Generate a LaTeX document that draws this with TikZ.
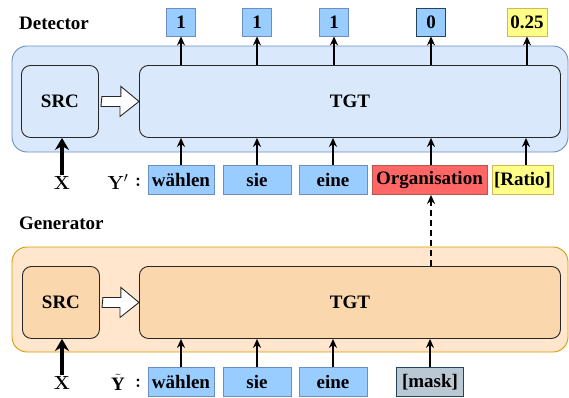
\documentclass[tikz,border=0pt]{standalone}
\usepackage{fontspec}
\setmainfont{Liberation Serif}
\newfontfamily\lmfont{Latin Modern Roman}
\usetikzlibrary{arrows.meta}
\definecolor{detfill}{HTML}{DAE8FC}
\definecolor{detdraw}{HTML}{6C8EBF}
\definecolor{genfill}{HTML}{FFE6CC}
\definecolor{gendraw}{HTML}{D79B00}
\definecolor{geninner}{HTML}{FAD7AC}
\definecolor{tokfill}{HTML}{99CCFF}
\definecolor{tokdraw}{HTML}{6C8EBF}
\definecolor{redfill}{HTML}{FF6666}
\definecolor{reddraw}{HTML}{B85450}
\definecolor{yelfill}{HTML}{FFFF88}
\definecolor{yeldraw}{HTML}{D6B656}
\definecolor{maskfill}{HTML}{BAC8D3}
\definecolor{maskdraw}{HTML}{23445D}
\tikzset{
  outer/.style={rounded corners=15pt, line width=0.9pt},
  inner/.style={draw=black!85, rounded corners=9pt, line width=0.9pt},
  tok/.style={draw=tokdraw, fill=tokfill, line width=0.8pt, minimum height=29pt, inner sep=0pt, font=\fontsize{19}{19}\bfseries},
  outbox/.style={tok, minimum height=28pt, minimum width=29pt},
  lbl/.style={font=\fontsize{19}{19}\bfseries},
  arr/.style={-{Stealth[length=9pt,width=8pt]}, line width=1.4pt},
  thick arr/.style={-{Stealth[length=12pt,width=14pt]}, line width=3.2pt},
  hollowarr/.style={draw=black!85, fill=white, line width=0.9pt, line join=miter},
  mathlbl/.style={font=\lmfont\fontsize{19}{19}\bfseries}
}
\begin{document}
\begin{tikzpicture}[x=1pt,y=-1pt]
\useasboundingbox (0,0) rectangle (569,397);
% ---------- Detector ----------
\node[lbl, anchor=west, inner sep=0pt] (dettitle) at (19,23) {Detector};
\draw[outer, fill=detfill, draw=detdraw] (12,46) rectangle (568,152);
\node[inner, fill=detfill, minimum width=77pt, minimum height=72pt, anchor=north west, lbl] (dsrc) at (21,65) {SRC};
\node[inner, fill=detfill, minimum width=421pt, minimum height=72pt, anchor=north west, lbl] (dtgt) at (139,65) {TGT};
\path (dsrc.east) ++(3,0) coordinate (dha);
\draw[hollowarr] (dha) ++(0,-5) -- ++(19,0) -- ++(0,-10) -- (dtgt.west) -- ++(-19,15) -- ++(0,-10) -- ++(-19,0) -- cycle;
% outputs
\node[outbox] (o1) at (181,22) {1};
\node[outbox] (o2) at (257,22) {1};
\node[outbox] (o3) at (334,22) {1};
\node[outbox, draw=maskdraw] (o4) at (431,22) {0};
\node[outbox, fill=yelfill, draw=yeldraw, minimum width=40pt] (o5) at (527,22) {0.25};
\foreach \i in {1,...,5} \draw[arr] (dtgt.north -| o\i.south) -- (o\i.south);
% inputs
\node[tok, minimum width=66pt] (d1) at (181,180) {wählen};
\node[tok, minimum width=68pt] (d2) at (257,180) {sie};
\node[tok, minimum width=68pt] (d3) at (333,180) {eine};
\node[tok, fill=redfill, draw=reddraw, minimum width=115pt] (d4) at (429.5,180) {Organisation};
\node[tok, fill=yelfill, draw=yeldraw, minimum width=61pt] (d5) at (522.5,180) {[Ratio]};
\coordinate (d4a) at (431,165);
\coordinate (d5a) at (526,165);
\draw[arr] (d1.north) -- (d1.north |- dtgt.south);
\draw[arr] (d2.north) -- (d2.north |- dtgt.south);
\draw[arr] (d3.north) -- (d3.north |- dtgt.south);
\draw[arr] (d4a) -- (d4a |- dtgt.south);
\draw[arr] (d5a) -- (d5a |- dtgt.south);
\node[mathlbl, inner sep=1pt] (dx) at (62,183) {X};
\draw[thick arr] (dx.north) -- (dx.north |- dsrc.south);
\node[mathlbl, inner sep=0pt] (dy) at (118,182) {Y$'$};
\node[mathlbl, inner sep=0pt] (dc) at (138,182) {:};
% ---------- Generator ----------
\node[lbl, anchor=west, inner sep=0pt] (gentitle) at (19,223) {Generator};
\draw[outer, fill=genfill, draw=gendraw] (12,247) rectangle (568,352);
\node[inner, fill=geninner, minimum width=77pt, minimum height=72pt, anchor=north west, lbl] (gsrc) at (22,266) {SRC};
\node[inner, fill=geninner, minimum width=421pt, minimum height=72pt, anchor=north west, lbl] (gtgt) at (139,266) {TGT};
\path (gsrc.east) ++(3,0) coordinate (gha);
\draw[hollowarr] (gha) ++(0,-5) -- ++(18,0) -- ++(0,-10) -- (gtgt.west) -- ++(-19,15) -- ++(0,-10) -- ++(-18,0) -- cycle;
\node[tok, minimum width=66pt] (g1) at (181,382) {wählen};
\node[tok, minimum width=68pt] (g2) at (257,382) {sie};
\node[tok, minimum width=68pt] (g3) at (333,382) {eine};
\node[tok, fill=maskfill, draw=maskdraw, minimum width=67pt] (g4) at (430,382) {[mask]};
\foreach \i in {1,...,4} \draw[arr] (g\i.north) -- (g\i.north |- gtgt.south);
\node[mathlbl, inner sep=1pt] (gx) at (62,383) {X};
\draw[thick arr] (gx.north) -- (gx.north |- gsrc.south);
\node[mathlbl, inner sep=0pt] (gy) at (118,382) {$\tilde{\mathbf{Y}}$};
\node[mathlbl, inner sep=0pt] (gc) at (138,383) {:};
\draw[arr, dash pattern=on 6pt off 4pt] (gtgt.north -| d4a) -- (d4.south -| d4a);
\end{tikzpicture}
\end{document}
